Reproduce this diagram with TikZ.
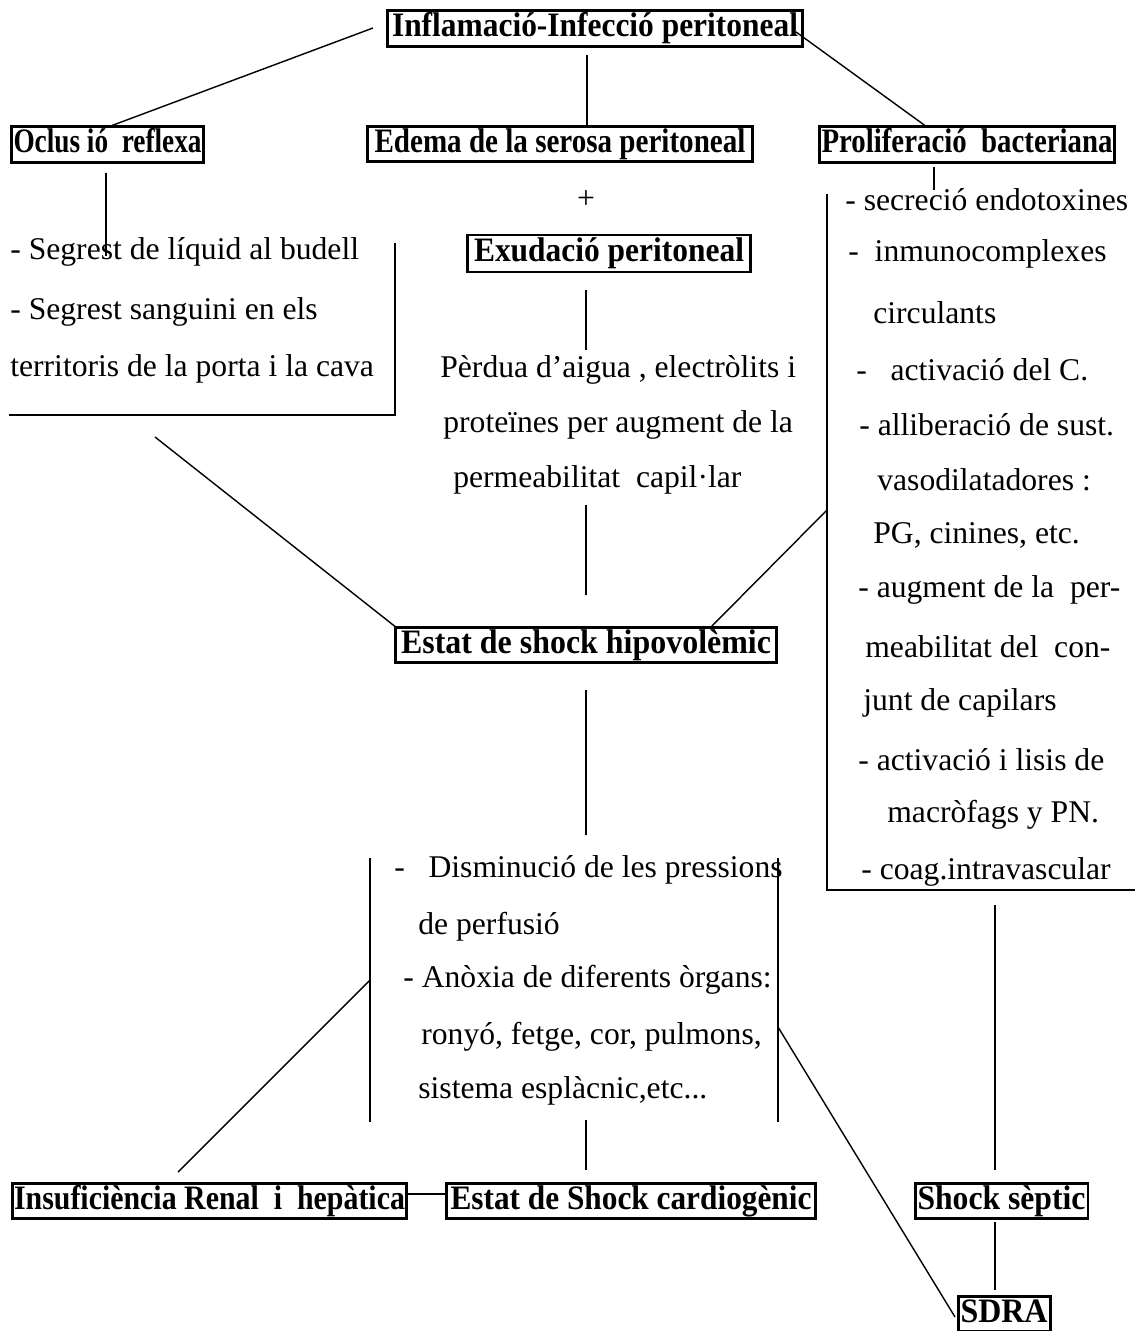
\documentclass[tikz,border=0pt]{standalone}
\usepackage{graphicx}
\usepackage{fontspec}
\setmainfont{Liberation Serif}
\newcommand{\fitw}[2]{\resizebox{#1}{\height}{#2}}
\begin{document}
\begin{tikzpicture}[x=0.02cm,y=-0.02cm,
  box/.style={draw,line width=1.7pt,inner sep=0pt,minimum height=0.71cm,text height=14pt,text depth=4.5pt,font=\fontsize{19.5}{21}\selectfont\bfseries},
  txt/.style={inner sep=0pt,anchor=west,font=\fontsize{18}{20}\selectfont},
  conn/.style={line width=0.8pt}]
\useasboundingbox (0,0) rectangle (1135,1331);
% boxes
\node[box,minimum width=8.32cm] (inf) at (595,28.5) {\fitw{8.12cm}{Inflamació-Infecció peritoneal}};
\node[box,minimum width=3.86cm] (ocl) at (107.5,144.5) {\fitw{3.76cm}{Oclus ió\ \ reflexa}};
\node[box,minimum width=7.72cm] (ede) at (560,144) {\fitw{7.42cm}{Edema de la serosa peritoneal}};
\node[box,minimum width=5.92cm] (pro) at (967,144.5) {\fitw{5.82cm}{Proliferació\ \ bacteriana}};
\node[box,minimum width=5.68cm,minimum height=0.74cm] (exu) at (609,253.5) {\fitw{5.4cm}{Exudació peritoneal}};
\node[box,minimum width=7.64cm] (hip) at (586,645) {\fitw{7.4cm}{Estat de shock hipovolèmic}};
\node[box,minimum width=7.9cm] (ins) at (209.5,1201) {\fitw{7.82cm}{Insuficiència Renal\ \ i\ \ hepàtica}};
\node[box,minimum width=7.4cm] (car) at (631,1201) {\fitw{7.22cm}{Estat de Shock cardiogènic}};
\node[box,minimum width=3.46cm] (sep) at (1001.5,1201) {\fitw{3.36cm}{Shock sèptic}};
\node[box,minimum width=1.84cm] (sdr) at (1004,1314) {\fitw{1.74cm}{SDRA}};
% texts
\node[inner sep=0pt,font=\fontsize{18}{20}\selectfont] (plus) at (586,200) {+};
\node[txt] (l1) at (10,252) {- Segrest de líquid al budell};
\node[txt] (l2) at (10,312) {- Segrest sanguini en els};
\node[txt] (l3) at (10,369) {territoris de la porta i la cava};
\node[txt] (m1) at (440,370) {Pèrdua d’aigua , electròlits i};
\node[txt] (m2) at (443,425) {proteïnes per augment de la};
\node[txt] (m3) at (453,480) {permeabilitat\ \ capil·lar};
\node[txt] (r1) at (845,200) {- secreció endotoxines};
\node[txt] (r2) at (848,254) {-\ \ inmunocomplexes};
\node[txt] (r3) at (873,313) {circulants};
\node[txt] (r4) at (856,370) {-\ \ \ activació del C.};
\node[txt] (r5) at (859,425) {- alliberació de sust.};
\node[txt] (r6) at (877,480) {vasodilatadores :};
\node[txt] (r7) at (873,535) {PG, cinines, etc.};
\node[txt] (r8) at (858,590) {- augment de la\ \ per-};
\node[txt] (r9) at (865,647) {meabilitat del\ \ con-};
\node[txt] (r10) at (863,703) {junt de capilars};
\node[txt] (r11) at (858,760) {- activació i lisis de};
\node[txt] (r12) at (887,815) {macròfags y PN.};
\node[txt] (r13) at (861,872) {- coag.intravascular};
\node[txt] (b1) at (394,870) {-\ \ \ Disminució de les pressions};
\node[txt] (b2) at (418,927) {de perfusió};
\node[txt] (b3) at (403,980) {- Anòxia de diferents òrgans:};
\node[txt] (b4) at (421,1037) {ronyó, fetge, cor, pulmons,};
\node[txt] (b5) at (418,1091) {sistema esplàcnic,etc...};
% coordinates
\coordinate (a1) at (373,28);
\coordinate (a2) at (108,127);
\coordinate (e1) at (587,55);
\coordinate (e2) at (587,126);
\coordinate (p1) at (796,32);
\coordinate (p2) at (927,127);
\coordinate (o1) at (106,173);
\coordinate (o2) at (106,256);
\coordinate (lb1) at (395,243);
\coordinate (lb2) at (395,415);
\coordinate (lb3) at (9,415);
\coordinate (h1) at (155,437);
\coordinate (h2) at (397,628);
\coordinate (x1) at (586,290);
\coordinate (x2) at (586,350);
\coordinate (x3) at (586,505);
\coordinate (x4) at (586,595);
\coordinate (x5) at (586,690);
\coordinate (x6) at (586,835);
\coordinate (x7) at (586,1120);
\coordinate (x8) at (586,1170);
\coordinate (q1) at (934,167);
\coordinate (q2) at (934,190);
\coordinate (rb1) at (827,194);
\coordinate (rb2) at (827,890);
\coordinate (rb3) at (1135,890);
\coordinate (rh1) at (827,510);
\coordinate (rh2) at (710,628);
\coordinate (bl1) at (370,858);
\coordinate (bl2) at (370,1122);
\coordinate (br1) at (778,858);
\coordinate (br2) at (778,1122);
\coordinate (bi1) at (370,980);
\coordinate (bi2) at (178,1172);
\coordinate (bs1) at (778,1027);
\coordinate (bs2) at (955,1317);
\coordinate (ic1) at (408,1194);
\coordinate (ic2) at (446,1194);
\coordinate (s1) at (995,905);
\coordinate (s2) at (995,1170);
\coordinate (s3) at (995,1222);
\coordinate (s4) at (995,1290);
% connectors
\draw[conn] (a1) -- (a2);
\draw[conn] (e1) -- (e2);
\draw[conn] (p1) -- (p2);
\draw[conn] (o1) -- (o2);
\draw[conn] (lb1) -- (lb2) -- (lb3);
\draw[conn] (h1) -- (h2);
\draw[conn] (x1) -- (x2);
\draw[conn] (x3) -- (x4);
\draw[conn] (x5) -- (x6);
\draw[conn] (x7) -- (x8);
\draw[conn] (q1) -- (q2);
\draw[conn] (rb1) -- (rb2) -- (rb3);
\draw[conn] (rh1) -- (rh2);
\draw[conn] (bl1) -- (bl2);
\draw[conn] (br1) -- (br2);
\draw[conn] (bi1) -- (bi2);
\draw[conn] (bs1) -- (bs2);
\draw[conn] (ic1) -- (ic2);
\draw[conn] (s1) -- (s2);
\draw[conn] (s3) -- (s4);
\end{tikzpicture}
\end{document}
